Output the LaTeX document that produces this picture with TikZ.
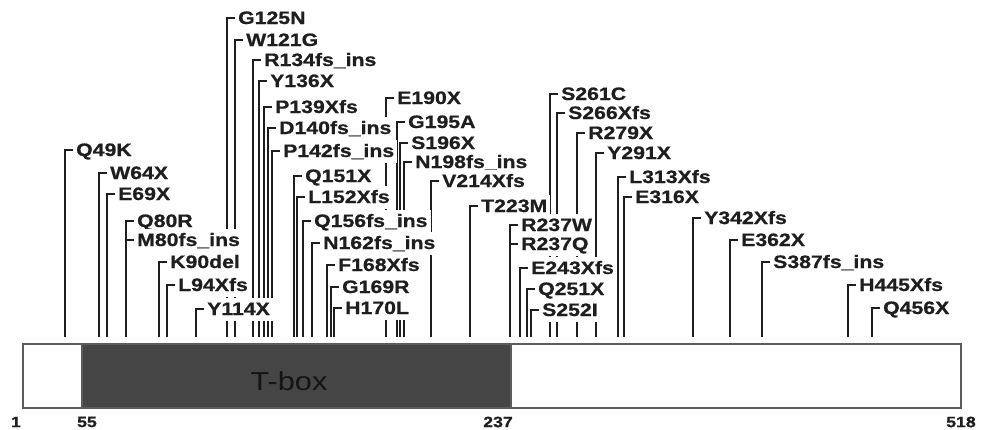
\documentclass[tikz,border=0pt]{standalone}
\usepackage{fontspec}
\setmainfont{Liberation Sans}
\newfontfamily\mutfont{Liberation Sans}[FakeStretch=1.18]
\newfontfamily\mutboldfont{Liberation Sans Bold}[FakeStretch=1.18,FakeBold=0.8]
\usetikzlibrary{backgrounds}
\definecolor{boxgray}{HTML}{454545}
\definecolor{edgegray}{HTML}{5C5C5C}
\definecolor{stemcol}{HTML}{1E1E1E}

\begin{document}
\begin{tikzpicture}[x=1pt,y=-1pt,
		mut/.style={anchor=west,fill=white,text=stemcol,inner xsep=3pt,inner ysep=2pt,
			text height=15.5pt,text depth=3.5pt,font=\mutboldfont\fontsize{18}{18}\selectfont},
		stem/.style={draw=stemcol,line width=1.6pt},
		num/.style={text=stemcol,inner sep=0pt,font=\mutboldfont\fontsize{15}{15}\selectfont}]
		
		\useasboundingbox (0,0) rectangle (986,429);
		
		% protein bar
		\node[draw=edgegray,line width=1.5pt,fill=white,inner sep=0pt,minimum width=938pt,minimum height=64pt,anchor=north west] (prot) at (22,343) {};
		\node[draw=edgegray,line width=1.5pt,fill=boxgray,inner sep=0pt,minimum width=429pt,minimum height=64pt,anchor=north west] (tbox) at (81,343) {};
		\node[text=black!92,font=\mutfont\fontsize{26}{26}\selectfont] (tboxlabel) at (289,381) {T-box};
		
		\node[num] (n1) at (16,422) {1};
		\node[num] (n55) at (87,422) {55};
		\node[num] (n237) at (498,422) {237};
		\node[num] (n518) at (961,422) {518};
		
		% mutations
		\node[mut] (q49k) at (73,150) {Q49K};
		\node[mut] (w64x) at (107,173) {W64X};
		\node[mut] (e69x) at (115,194) {E69X};
		\node[mut] (q80r) at (134,221) {Q80R};
		\node[mut] (m80) at (134,240) {M80fs\_ins};
		\node[mut] (k90) at (167,262) {K90del};
		\node[mut] (l94) at (175,285) {L94Xfs};
		\node[mut] (y114) at (204,309) {Y114X};
		\node[mut] (g125) at (235,18) {G125N};
		\node[mut] (w121) at (243,40) {W121G};
		\node[mut] (r134) at (261,60) {R134fs\_ins};
		\node[mut] (y136) at (267,81) {Y136X};
		\node[mut] (p139) at (272,107) {P139Xfs};
		\node[mut] (d140) at (276,128) {D140fs\_ins};
		\node[mut] (p142) at (280,151) {P142fs\_ins};
		\node[mut] (q151) at (302,176) {Q151X};
		\node[mut] (l152) at (305,197) {L152Xfs};
		\node[mut] (q156) at (311,221) {Q156fs\_ins};
		\node[mut] (n162) at (320,243) {N162fs\_ins};
		\node[mut] (f168x) at (335,265) {F168Xfs};
		\node[mut] (g169) at (339,287) {G169R};
		\node[mut] (h170) at (342,308) {H170L};
		\node[mut] (e190) at (394,98) {E190X};
		\node[mut] (g195) at (405,122) {G195A};
		\node[mut] (s196) at (408,143) {S196X};
		\node[mut] (n198) at (412,162) {N198fs\_ins};
		\node[mut] (v214) at (439,181) {V214Xfs};
		\node[mut] (t223) at (478,206) {T223M};
		\node[mut] (r237w) at (518,225) {R237W};
		\node[mut] (r237q) at (518,244) {R237Q};
		\node[mut] (e243) at (528,268) {E243Xfs};
		\node[mut] (q251) at (535,289) {Q251X};
		\node[mut] (s252) at (539,310) {S252I};
		\node[mut] (s261) at (558,94) {S261C};
		\node[mut] (s266) at (565,113) {S266Xfs};
		\node[mut] (r279) at (585,133) {R279X};
		\node[mut] (y291) at (604,153) {Y291X};
		\node[mut] (l313) at (626,177) {L313Xfs};
		\node[mut] (e316) at (632,197) {E316X};
		\node[mut] (y342) at (701,218) {Y342Xfs};
		\node[mut] (e362) at (738,240) {E362X};
		\node[mut] (s387) at (770,262) {S387fs\_ins};
		\node[mut] (h445) at (856,285) {H445Xfs};
		\node[mut] (q456) at (880,308) {Q456X};
		
		% feet of the stems
		\coordinate (f49) at (65,337);
		\coordinate (f64) at (99,337);
		\coordinate (f69) at (107,337);
		\coordinate (f80) at (126,337);
		\coordinate (f90) at (159,337);
		\coordinate (f94) at (167,337);
		\coordinate (f114) at (196,337);
		\coordinate (f125) at (227,337);
		\coordinate (f121) at (235,337);
		\coordinate (f134) at (253,337);
		\coordinate (f136) at (259,337);
		\coordinate (f139) at (264,337);
		\coordinate (f140) at (268,337);
		\coordinate (f142) at (272,337);
		\coordinate (f151) at (294,337);
		\coordinate (f152) at (297,337);
		\coordinate (f156) at (303,337);
		\coordinate (f162) at (312,337);
		\coordinate (f168) at (327,337);
		\coordinate (f169) at (331,337);
		\coordinate (f170) at (334,337);
		\coordinate (f190) at (386,337);
		\coordinate (f195) at (397,337);
		\coordinate (f196) at (400,337);
		\coordinate (f198) at (404,337);
		\coordinate (f214) at (431,337);
		\coordinate (f223) at (470,337);
		\coordinate (f237) at (510,337);
		\coordinate (f243) at (520,337);
		\coordinate (f251) at (527,337);
		\coordinate (f252) at (531,337);
		\coordinate (f261) at (550,337);
		\coordinate (f266) at (557,337);
		\coordinate (f279) at (577,337);
		\coordinate (f291) at (596,337);
		\coordinate (f313) at (618,337);
		\coordinate (f316) at (624,337);
		\coordinate (f342) at (693,337);
		\coordinate (f362) at (730,337);
		\coordinate (f387) at (762,337);
		\coordinate (f445) at (848,337);
		\coordinate (f456) at (872,337);
		
		\begin{scope}[on background layer]
		\draw[stem] (f49) |- (q49k) (f64) |- (w64x) (f69) |- (e69x)
			(f80) |- (q80r) (f80) |- (m80) (f90) |- (k90) (f94) |- (l94)
			(f114) |- (y114) (f125) |- (g125) (f121) |- (w121)
			(f134) |- (r134) (f136) |- (y136) (f139) |- (p139)
			(f140) |- (d140) (f142) |- (p142) (f151) |- (q151)
			(f152) |- (l152) (f156) |- (q156) (f162) |- (n162)
			(f168) |- (f168x) (f169) |- (g169) (f170) |- (h170)
			(f190) |- (e190) (f195) |- (g195) (f196) |- (s196)
			(f198) |- (n198) (f214) |- (v214) (f223) |- (t223)
			(f237) |- (r237w) (f237) |- (r237q) (f243) |- (e243)
			(f251) |- (q251) (f252) |- (s252) (f261) |- (s261)
			(f266) |- (s266) (f279) |- (r279) (f291) |- (y291)
			(f313) |- (l313) (f316) |- (e316) (f342) |- (y342)
			(f362) |- (e362) (f387) |- (s387) (f445) |- (h445)
			(f456) |- (q456);
		\end{scope}
\end{tikzpicture}
\end{document}
